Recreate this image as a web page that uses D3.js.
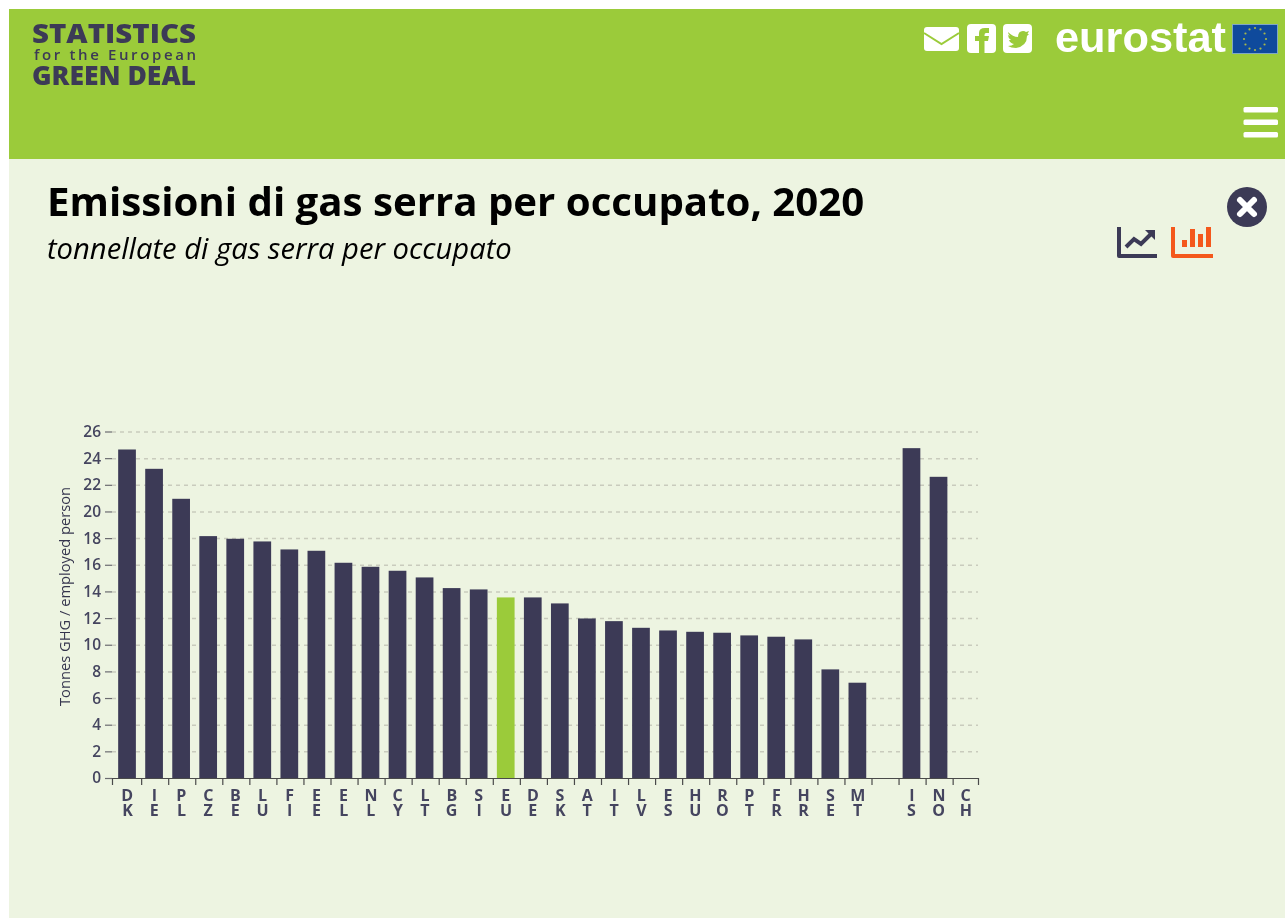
<!DOCTYPE html>
<html>
<head>
<meta charset="utf-8">
<title>Emissioni di gas serra per occupato, 2020</title>
<script src="https://cdn.jsdelivr.net/npm/d3@7"></script>
<style>
  html, body { margin: 0; padding: 0; background: #fff; }
  svg { display: block; font-family: 'Open Sans', sans-serif; filter: blur(0.4px); }
  .axis text { fill: #45455f; font-family: 'Open Sans', sans-serif; font-weight: 600; }
  .axis.x text { writing-mode: vertical-rl; text-orientation: upright; font-weight: 700; }
</style>
</head>
<body>
<div id="chart"></div>
<script>
// Country codes, blank slot separates the EU from the non-EU countries
const categories = ['DK', 'IE', 'PL', 'CZ', 'BE', 'LU', 'FI', 'EE', 'EL', 'NL', 'CY', 'LT', 'BG', 'SI', 'EU', 'DE', 'SK', 'AT', 'IT', 'LV', 'ES', 'HU', 'RO', 'PT', 'FR', 'HR', 'SE', 'MT', ' ', 'IS', 'NO', 'CH']
// Tonnes GHG per employed person, null = no data
const values = [24.65, 23.2, 20.95, 18.15, 17.95, 17.75, 17.15, 17.05, 16.15, 15.85, 15.55, 15.05, 14.25, 14.15, 13.55, 13.55, 13.1, 11.97, 11.77, 11.27, 11.07, 10.97, 10.9, 10.7, 10.6, 10.4, 8.15, 7.15, null, 24.75, 22.6, null]
const yTicks = [0, 2, 4, 6, 8, 10, 12, 14, 16, 18, 20, 22, 24, 26]
const highlighted = 'EU'

const titleText = 'Emissioni di gas serra per occupato, 2020'
const subtitleText = 'tonnellate di gas serra per occupato'
const yAxisTitle = 'Tonnes GHG / employed person'

const navy = '#3c3a56'
const green = '#9bcb3a'
const pale = '#edf4e1'
const orange = '#f4581c'

const svg = d3.select('#chart').append('svg')
  .attr('width', 1285)
  .attr('height', 918)

/* ---------- page ---------- */
svg.append('rect').attr('x', 9).attr('y', 9).attr('width', 1276).attr('height', 909).attr('fill', pale)
svg.append('rect').attr('x', 9).attr('y', 9).attr('width', 1276).attr('height', 150).attr('fill', green)

/* ---------- logo ---------- */
const logo = svg.append('g').attr('fill', navy)
logo.append('text').attr('x', 32).attr('y', 43).attr('font-size', 26).attr('font-weight', 800).attr('textLength', 164).attr('lengthAdjust', 'spacingAndGlyphs').text('STATISTICS')
logo.append('text').attr('x', 34).attr('y', 60).attr('font-size', 15).attr('font-weight', 600).attr('textLength', 162).text('for the European')
logo.append('text').attr('x', 32).attr('y', 85).attr('font-size', 26).attr('font-weight', 800).attr('textLength', 164).attr('lengthAdjust', 'spacingAndGlyphs').text('GREEN DEAL')

/* ---------- header icons ---------- */
const icons = svg.append('g')
// mail
icons.append('rect').attr('x', 924).attr('y', 27).attr('width', 35).attr('height', 24).attr('rx', 3).attr('fill', '#fff')
icons.append('path').attr('d', 'M924 33 L941.5 44 L959 33').attr('fill', 'none').attr('stroke', green).attr('stroke-width', 2)
// facebook
icons.append('rect').attr('x', 967).attr('y', 24).attr('width', 29).attr('height', 29).attr('rx', 4).attr('fill', '#fff')
icons.append('path').attr('d', 'M979 53 V41 H975 V36 H979 V33 Q979 28 985 28 H989 V33 H986 Q984.500 33 984.500 35 V36 H989 L988 41 H984.500 V53 Z').attr('fill', green)
// twitter
icons.append('rect').attr('x', 1003).attr('y', 24).attr('width', 29).attr('height', 29).attr('rx', 4).attr('fill', '#fff')
icons.append('path').attr('d', 'M1008 32 Q1013 37 1018 37 Q1018 31 1023 31 Q1025 31 1026 32 L1029 31 L1027.500 34 L1029 34 L1027 36 Q1027 46 1016 48 Q1011 48 1008 46 Q1012 46 1014 44 Q1010 43 1009 40 L1011 40 Q1008 38 1008 35 L1010 36 Q1008 34 1008 32 Z').attr('fill', green)
// eurostat wordmark and flag
svg.append('text').attr('x', 1055).attr('y', 52).attr('fill', '#fff').attr('font-family', "'Liberation Sans', sans-serif").attr('font-weight', 700).attr('font-size', 42).attr('textLength', 171).attr('lengthAdjust', 'spacingAndGlyphs').text('eurostat')
svg.append('rect').attr('x', 1232.500).attr('y', 24.500).attr('width', 45).attr('height', 29).attr('fill', '#0f4a9c').attr('stroke', '#7fa8c4')
svg.selectAll('.star').data(d3.range(12)).enter().append('circle')
  .attr('cx', d => 1255 + 11 * Math.sin(d * Math.PI / 6))
  .attr('cy', d => 39 - 11 * Math.cos(d * Math.PI / 6))
  .attr('r', 1.100)
  .attr('fill', '#a9b84a')
// hamburger
svg.selectAll('.burger').data([107, 119.500, 132]).enter().append('rect')
  .attr('x', 1243.500).attr('y', d => d).attr('width', 34.500).attr('height', 5.500).attr('rx', 1.500).attr('fill', '#fff')

/* ---------- title ---------- */
svg.append('text').attr('x', 47).attr('y', 216).attr('font-size', 40.200).attr('font-weight', 700).attr('fill', '#000').text(titleText)
svg.append('text').attr('x', 47).attr('y', 259).attr('font-size', 29.200).attr('font-style', 'italic').attr('fill', '#000').text(subtitleText)

/* ---------- view icons ---------- */
svg.append('circle').attr('cx', 1247).attr('cy', 207).attr('r', 20).attr('fill', navy)
svg.append('path').attr('d', 'M1240 200 L1254 214 M1254 200 L1240 214').attr('stroke', '#fff').attr('stroke-width', 6).attr('stroke-linecap', 'round')
svg.append('path').attr('d', 'M1119 227 V256 H1157').attr('fill', 'none').attr('stroke', navy).attr('stroke-width', 4).attr('stroke-linejoin', 'round')
svg.append('path').attr('d', 'M1126 247 L1134 239 L1141 244 L1151 234').attr('fill', 'none').attr('stroke', navy).attr('stroke-width', 4)
svg.append('path').attr('d', 'M1145 230 H1155 V240 Z').attr('fill', navy)
svg.append('path').attr('d', 'M1173 227 V256 H1213').attr('fill', 'none').attr('stroke', orange).attr('stroke-width', 4).attr('stroke-linejoin', 'round')
svg.selectAll('.mini').data([[1182, 240, 5, 7], [1190, 229, 5, 18], [1198, 234, 5, 13], [1206, 227, 5, 20]]).enter().append('rect')
  .attr('x', d => d[0]).attr('y', d => d[1]).attr('width', d => d[2]).attr('height', d => d[3]).attr('fill', orange)

/* ---------- chart ---------- */
const plotLeft = 112
const plotRight = 978
const plotTop = 431.500
const plotBottom = 778

const xScale = d3.scaleBand()
  .domain(categories)
  .range([113.500, 979.100])
  .paddingInner(0.345)
  .paddingOuter(0.1725)

const yScale = d3.scaleLinear()
  .domain([0, 26])
  .range([plotBottom, plotTop])

// dashed grid
const grid = svg.append('g')
  .attr('class', 'grid')
  .attr('transform', 'translate(' + plotLeft + ',0)')
  .call(d3.axisLeft(yScale).tickValues(yTicks.slice(1)).tickSize(-(plotRight - plotLeft)).tickFormat(''))
grid.select('.domain').remove()
grid.selectAll('line')
  .attr('stroke', '#c9cbbd')
  .attr('stroke-width', 1.500)
  .attr('stroke-dasharray', '4 4')

// bars
svg.append('g').selectAll('.bar')
  .data(categories.map((c, i) => ({ code: c, value: values[i] })).filter(d => d.value !== null))
  .enter().append('rect')
  .attr('class', 'bar')
  .attr('x', d => xScale(d.code))
  .attr('y', d => yScale(d.value))
  .attr('width', xScale.bandwidth())
  .attr('height', d => plotBottom - yScale(d.value))
  .attr('fill', d => d.code === highlighted ? green : navy)

// y axis, only ticks and labels
const yAxis = svg.append('g')
  .attr('class', 'axis y')
  .attr('transform', 'translate(' + plotLeft + ',0)')
  .call(d3.axisLeft(yScale).tickValues(yTicks).tickSize(7).tickPadding(4))
yAxis.select('.domain').remove()
yAxis.selectAll('line').attr('stroke', '#6b6b70').attr('stroke-width', 1.200)
yAxis.selectAll('text').attr('font-size', 15.500)

// x axis line with outer ticks
const xLine = d3.scaleLinear().domain([0, 1]).range([plotLeft, plotRight])
const xAxisLine = svg.append('g')
  .attr('class', 'axis x-line')
  .attr('transform', 'translate(0,' + plotBottom + ')')
  .call(d3.axisBottom(xLine).tickValues([]).tickSizeOuter(7))
xAxisLine.select('.domain').attr('stroke', '#4a4a4a').attr('stroke-width', 1.200)

// tick marks sit between the bars
const xEdges = xScale.copy().range([113.500 + xScale.step() / 2 + 1.100, 979.100 + xScale.step() / 2 + 1.100])
const xAxisTicks = svg.append('g')
  .attr('class', 'axis x-ticks')
  .attr('transform', 'translate(0,' + plotBottom + ')')
  .call(d3.axisBottom(xEdges).tickValues(categories.slice(0, -1)).tickSize(7).tickFormat(''))
xAxisTicks.select('.domain').remove()
xAxisTicks.selectAll('line').attr('stroke', '#4a4a4a').attr('stroke-width', 1.200)

// country labels, letters stacked with vertical text
const xAxisLabels = svg.append('g')
  .attr('class', 'axis x')
  .attr('transform', 'translate(0,' + plotBottom + ')')
  .call(d3.axisBottom(xScale).tickSize(0))
xAxisLabels.select('.domain').remove()
xAxisLabels.selectAll('text')
  .attr('font-size', 16)
  .attr('text-anchor', 'start')
  .attr('y', 6)
  .attr('dy', 0)
  .style('letter-spacing', '-7.200px')

// y axis title
svg.append('text')
  .attr('transform', 'translate(70,596.500) rotate(-90)')
  .attr('text-anchor', 'middle')
  .attr('font-size', 14.700)
  .attr('fill', '#35354d')
  .text(yAxisTitle)
</script>
</body>
</html>
